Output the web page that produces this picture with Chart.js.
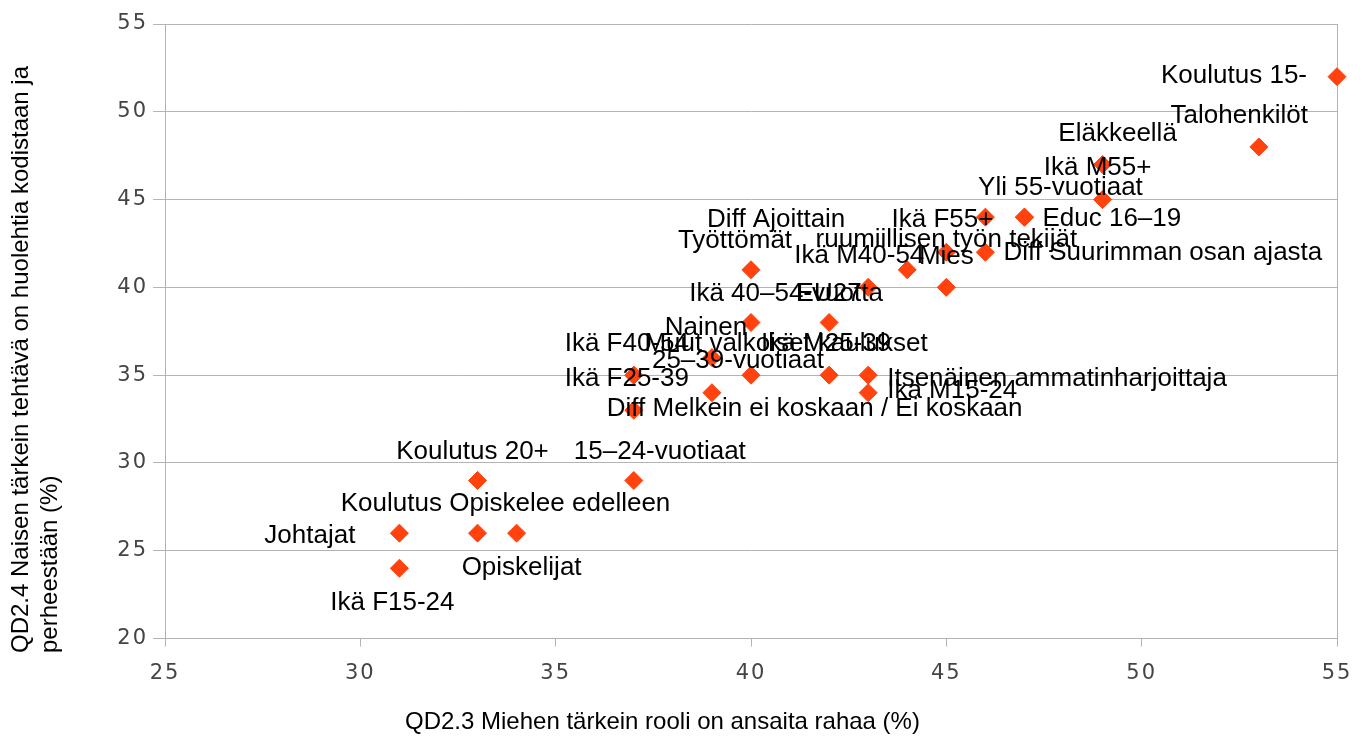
<!DOCTYPE html>
<html lang="fi">
<head>
<meta charset="utf-8">
<title>QD2.3 / QD2.4</title>
<script src="https://cdn.jsdelivr.net/npm/chart.js@4.4.1/dist/chart.umd.min.js"></script>
<style>
  html, body { margin: 0; padding: 0; background: #fff; }
  #chart { display: block; }
</style>
</head>
<body>
<canvas id="chart" width="1368" height="738"></canvas>
<script>
// Respondent groups and their shares (%)
const groups = [
  'Koulutus 15-', 'Talohenkilöt', 'Eläkkeellä', 'Ikä M55+', 'Yli 55-vuotiaat',
  'Educ 16–19', 'Ikä F55+', 'Diff Ajoittain', 'Työttömät', 'ruumiillisen työn tekijät',
  'Ikä M40-54', 'Mies', 'Diff Suurimman osan ajasta', 'Ikä 40–54-vuotta', 'EU27',
  'Nainen', 'Ikä F40-54', 'Muut valkoiset kaulukset', 'Ikä M25-39', '25–39-vuotiaat',
  'Ikä F25-39', 'Diff Melkein ei koskaan / Ei koskaan', 'Itsenäinen ammatinharjoittaja', 'Ikä M15-24', 'Koulutus 20+',
  '15–24-vuotiaat', 'Koulutus Opiskelee edelleen', 'Opiskelijat', 'Johtajat', 'Ikä F15-24'
];
// QD2.3 Miehen tärkein rooli on ansaita rahaa
const miehenRooli = [
  55, 53, 49, 49, 47,
  47, 46, 43, 40, 45,
  44, 45, 46, 40, 42,
  39, 37, 40, 42, 39,
  37, 37, 43, 43, 33,
  37, 33, 34, 31, 31
];
// QD2.4 Naisen tärkein tehtävä on huolehtia kodistaan ja perheestään
const naisenTehtava = [
  52, 48, 47, 45, 44,
  44, 44, 40, 41, 42,
  41, 40, 42, 38, 38,
  36, 35, 35, 35, 34,
  35, 33, 35, 34, 29,
  29, 26, 26, 26, 24
];
const xTicks = [25, 30, 35, 40, 45, 50, 55];
const yTicks = [20, 25, 30, 35, 40, 45, 50, 55];

const xTitle = 'QD2.3 Miehen tärkein rooli on ansaita rahaa (%)';
const yTitle = ['QD2.4 Naisen tärkein tehtävä on huolehtia kodistaan ja', 'perheestään (%)'];

// label anchor relative to its point: text align, dx, dy (px)
const labelPlacement = [
  ['right', -30, -1], ['right', 49, -31], ['center', 15, -31], ['center', -5, -32], ['center', 36, -29],
  ['left', 18, 2], ['right', 8, 3], ['center', -92, -68], ['center', -16, -29], ['center', 0, -12],
  ['center', -48, -14], ['center', 0, -31], ['left', 18, 1], ['center', 35, -29], ['center', 0, -29],
  ['center', -6, -30], ['center', -7, -31], ['center', 35, -31], ['center', -3, -31], ['center', 26, -32],
  ['center', -7, 4], ['left', -27, -1], ['left', 19, 4], ['left', 19, -2], ['center', -5, -29],
  ['center', 26, -29], ['center', 28, -29], ['center', 5, 35], ['right', -44, 3], ['center', -7, 35]
];

const GRID = '#b3b3b3';
const TEXT_FONT = '"Liberation Sans", Arial, sans-serif';

// Slightly wider spacing for the axis numbers
const tickSpacing = {
  id: 'tickSpacing',
  beforeDraw(chart) { chart.ctx.letterSpacing = '2px'; },
  afterDatasetsDraw(chart) { chart.ctx.letterSpacing = '0px'; }
};

// Draws the group name next to each marker
const pointLabels = {
  id: 'pointLabels',
  afterDatasetsDraw(chart) {
    const { ctx, scales: { x, y } } = chart;
    ctx.save();
    ctx.letterSpacing = '0px';
    ctx.font = '26px ' + TEXT_FONT;
    ctx.fillStyle = '#000';
    ctx.textBaseline = 'middle';
    groups.forEach((name, i) => {
      const [align, dx, dy] = labelPlacement[i];
      ctx.textAlign = align;
      ctx.fillText(name,
        x.getPixelForValue(miehenRooli[i]) + dx,
        y.getPixelForValue(naisenTehtava[i]) + dy);
    });
    ctx.restore();
  }
};

// Axis titles (y title is two left-aligned lines)
const axisTitles = {
  id: 'axisTitles',
  afterDraw(chart) {
    const { ctx } = chart;
    ctx.save();
    ctx.letterSpacing = '0px';
    ctx.font = '24px ' + TEXT_FONT;
    ctx.fillStyle = '#000';
    ctx.textBaseline = 'middle';
    ctx.textAlign = 'left';
    ctx.fillText(xTitle, 405, 722);
    ctx.translate(0, 653);
    ctx.rotate(-Math.PI / 2);
    yTitle.forEach((line, i) => ctx.fillText(line, 0, 21 + i * 29));
    ctx.restore();
  }
};

const tickFont = { family: '"DejaVu Sans", sans-serif', size: 21 };

new Chart(document.getElementById('chart'), {
  type: 'scatter',
  data: {
    datasets: [{
      data: groups.map((g, i) => ({ x: miehenRooli[i], y: naisenTehtava[i] })),
      pointStyle: 'rectRot',
      pointRadius: 9,
      backgroundColor: '#ff420e',
      borderColor: '#ff420e',
      borderWidth: 1,
      clip: false
    }]
  },
  options: {
    responsive: false,
    animation: false,
    events: [],
    layout: { padding: { top: 24, right: 31, left: 0, bottom: 0 } },
    plugins: {
      legend: { display: false },
      tooltip: { enabled: false }
    },
    scales: {
      x: {
        type: 'linear',
        min: xTicks[0],
        max: xTicks[xTicks.length - 1],
        afterFit: s => { s.height = 99.5; },
        ticks: { stepSize: xTicks[1] - xTicks[0], padding: 14, color: '#444', font: tickFont },
        grid: {
          color: c => (c.tick && c.tick.value === xTicks[xTicks.length - 1]) ? GRID : 'rgba(0,0,0,0)',
          tickColor: GRID,
          tickLength: 8
        },
        border: { color: GRID }
      },
      y: {
        min: yTicks[0],
        max: yTicks[yTicks.length - 1],
        afterFit: s => { s.width = 165; },
        ticks: { stepSize: yTicks[1] - yTicks[0], padding: 5, color: '#444', font: tickFont },
        grid: { color: GRID, tickColor: GRID, tickLength: 12 },
        border: { color: GRID }
      }
    }
  },
  plugins: [tickSpacing, pointLabels, axisTitles]
});
</script>
</body>
</html>
